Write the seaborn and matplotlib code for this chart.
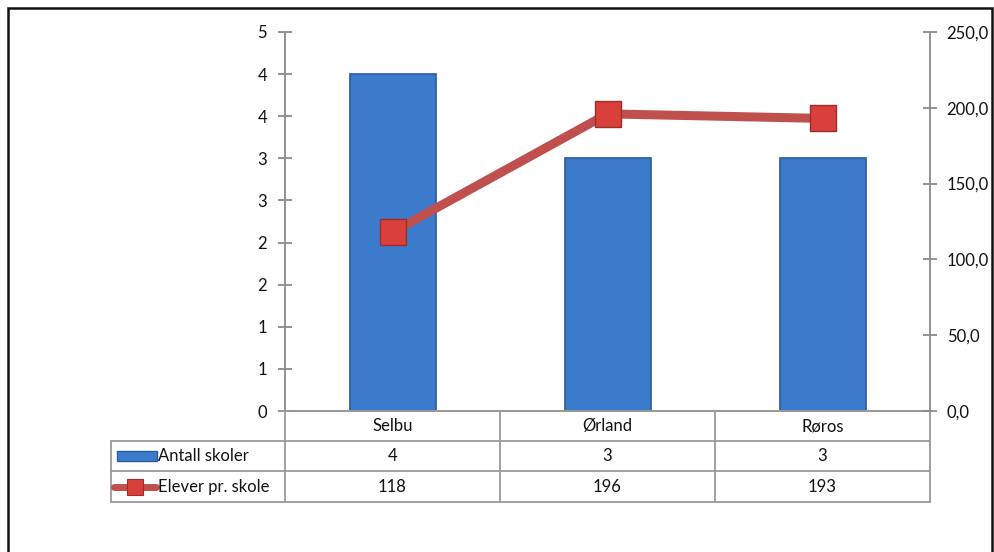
import numpy as np
import pandas as pd
import matplotlib
matplotlib.use("Agg")
import matplotlib.pyplot as plt
from matplotlib.lines import Line2D
from matplotlib.patches import Rectangle
import seaborn as sns

# ---- data ----
categories = ["Selbu", "Ørland", "Røros"]
antall_skoler = [4, 3, 3]
elever_pr_skole = [118, 196, 193]
series_names = ["Antall skoler", "Elever pr. skole"]
left_ticks = [0, 0.5, 1, 1.5, 2, 2.5, 3, 3.5, 4, 4.5]
left_tick_labels = ["0", "1", "1", "2", "2", "3", "3", "4", "4", "5"]
right_ticks = [0, 50, 100, 150, 200, 250]
right_tick_labels = ["0,0", "50,0", "100,0", "150,0", "200,0", "250,0"]

sns.set_theme(style="white")
plt.rcParams["font.family"] = ["Lato", "DejaVu Sans"]

W, H = 995, 552
fig = plt.figure(figsize=(W / 100, H / 100), dpi=100)

def fx(px):
    return px / W

def fy(py):
    return 1 - py / H

x0, x1, ytop, ybot = 285, 930, 32, 411
ax = fig.add_axes([fx(x0), fy(ybot), fx(x1) - fx(x0), fy(ytop) - fy(ybot)])

df = pd.DataFrame({"Kommune": categories, "Antall": antall_skoler, "Elever": elever_pr_skole})

bar_color = "#3C7BCB"
sns.barplot(data=df, x="Kommune", y="Antall", ax=ax, color=bar_color, width=0.4,
            saturation=1, edgecolor="#2A5B9C", linewidth=1.2, zorder=2)
ax.set_ylim(0, 4.5)
ax.set_xlim(-0.5, 2.5)

ax2 = ax.twinx()
sns.pointplot(data=df, x="Kommune", y="Elever", ax=ax2, color="#C0504D",
              markers="s", linestyles="-", linewidth=6.5, markersize=19,
              markeredgecolor="#9A2E2B", markerfacecolor="#D9403B",
              markeredgewidth=1.0, zorder=5)
ax2.set_ylim(0, 250)
ax2.set_xlim(-0.5, 2.5)
ax.set_zorder(1)
ax2.set_zorder(2)
ax.patch.set_visible(False)

grey = "#8A8A8A"
for a in (ax, ax2):
    for s in a.spines.values():
        s.set_visible(False)
    a.set_xlabel("")
    a.set_ylabel("")
    a.grid(False)
    a.tick_params(axis="x", bottom=False, labelbottom=False, top=False)

ax.spines["left"].set_visible(True)
ax.spines["left"].set_color(grey)
ax.spines["left"].set_linewidth(1.3)
ax.spines["bottom"].set_visible(True)
ax.spines["bottom"].set_color(grey)
ax.spines["bottom"].set_linewidth(1.3)
ax2.spines["right"].set_visible(True)
ax2.spines["right"].set_color(grey)
ax2.spines["right"].set_linewidth(1.3)

fs = 12
ax.set_yticks(left_ticks)
ax.set_yticklabels(left_tick_labels)
ax.tick_params(axis="y", left=True, direction="inout", length=10, width=1.3,
               color=grey, pad=8, labelsize=fs, labelcolor="#111111")
ax2.set_yticks(right_ticks)
ax2.set_yticklabels(right_tick_labels)
ax2.tick_params(axis="y", right=True, direction="inout", length=10, width=1.3,
                color=grey, pad=7, labelsize=fs, labelcolor="#111111")

# ---- data table ----
tcol = "#9A9A9A"
lw = 1.3
col_x = [111, 285, 500, 715, 930]

def hline(xa, xb, y):
    fig.add_artist(Line2D([fx(xa), fx(xb)], [fy(y), fy(y)], color=tcol, lw=lw))

def vline(x, ya, yb):
    fig.add_artist(Line2D([fx(x), fx(x)], [fy(ya), fy(yb)], color=tcol, lw=lw))

hline(285, 930, 411)
hline(111, 930, 441)
hline(111, 930, 471)
hline(111, 930, 502)
for x in col_x[1:]:
    vline(x, 411, 502)
vline(111, 441, 502)

for i, cat in enumerate(categories):
    cx = (col_x[i + 1] + col_x[i + 2]) / 2
    fig.text(fx(cx), fy(426), cat, ha="center", va="center", fontsize=fs, color="#111111")
    fig.text(fx(cx), fy(456), str(antall_skoler[i]), ha="center", va="center", fontsize=fs, color="#111111")
    fig.text(fx(cx), fy(487), str(elever_pr_skole[i]), ha="center", va="center", fontsize=fs, color="#111111")

# legend keys
fig.add_artist(Rectangle((fx(117), fy(461)), fx(157) - fx(117), fy(451) - fy(461),
                         facecolor=bar_color, edgecolor="#2A5B9C", lw=1))
fig.add_artist(Line2D([fx(114), fx(156)], [fy(487), fy(487)], color="#C0504D", lw=5,
                      solid_capstyle="round"))
fig.add_artist(Line2D([fx(135)], [fy(487)], marker="s", markersize=12,
                      markerfacecolor="#D9403B", markeredgecolor="#9A2E2B",
                      markeredgewidth=0.8, color="none"))
fig.text(fx(158), fy(456), series_names[0], ha="left", va="center", fontsize=fs, color="#111111")
fig.text(fx(158), fy(487), series_names[1], ha="left", va="center", fontsize=fs, color="#111111")

# outer frame
fig.add_artist(Rectangle((fx(8), fy(600)), fx(992) - fx(8), fy(8) - fy(600),
                         facecolor="none", edgecolor="#111111", lw=1.8))

fig.savefig("out.png", dpi=100)
